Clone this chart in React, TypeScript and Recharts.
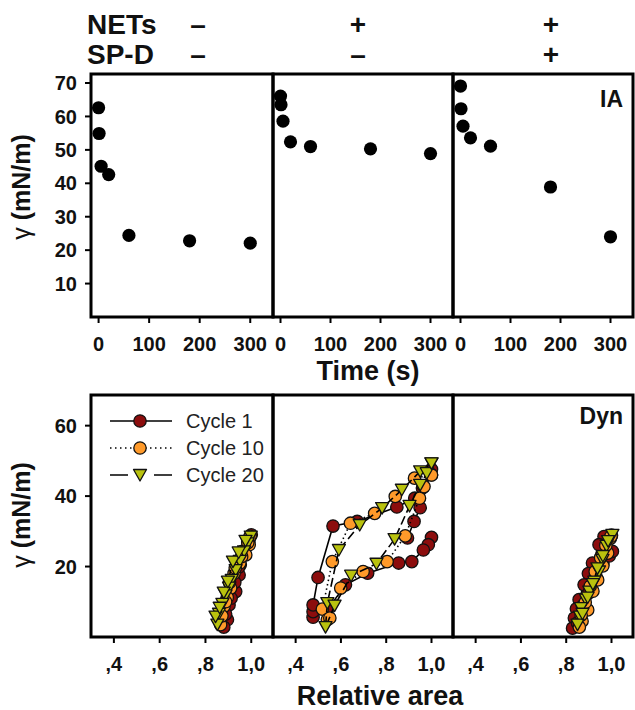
import React from 'react';
import { ScatterChart, Scatter, XAxis, YAxis, ReferenceArea, Legend } from 'recharts';

const FONT = '"Liberation Sans", Arial, Helvetica, sans-serif';

// ---------------- header ----------------
const conditionNames = ['NETs', 'SP-D'];
const netsSigns = ['–', '+', '+'];
const spdSigns = ['–', '–', '+'];
const panelTags = ['IA', 'Dyn'];

// ---------------- IA (adsorption) ----------------
const iaTimes = [0, 1, 5, 20, 60, 180, 300];
const iaGammaCtrl = [62.6, 54.9, 45.1, 42.6, 24.4, 22.8, 22.1];
const iaGammaNets = [66.1, 63.5, 58.6, 52.4, 51.0, 50.3, 48.9];
const iaGammaNetsSpd = [69.1, 62.3, 57.1, 53.6, 51.1, 38.9, 24.0];
const timeTicks = [0, 100, 200, 300];
const iaGammaTicks = [10, 20, 30, 40, 50, 60, 70];

// ---------------- Dyn (cycling) ----------------
const cycleNames = ['Cycle 1', 'Cycle 10', 'Cycle 20'];
const areaTicks = [0.4, 0.6, 0.8, 1.0];
const areaTickLabels = [',4', ',6', ',8', '1,0'];
const dynGammaTicks = [20, 40, 60];

// NETs -, SP-D -
const ctrlC1Area = [1.0, 0.985, 0.962, 0.952, 0.947, 0.932, 0.903, 0.896, 0.88, 0.888, 0.912, 0.928, 0.945, 0.968, 0.99];
const ctrlC1Gamma = [29.0, 26.9, 24.3, 20.5, 17.6, 12.9, 9.1, 4.9, 2.8, 6.5, 11.0, 15.5, 19.8, 23.6, 27.4];
const ctrlC10Area = [0.995, 0.991, 0.976, 0.95, 0.925, 0.91, 0.895, 0.881, 0.866, 0.872, 0.888, 0.905, 0.93, 0.958, 0.985];
const ctrlC10Gamma = [28.6, 26.2, 23.3, 21.0, 18.1, 13.9, 11.2, 8.7, 3.5, 6.0, 10.0, 15.5, 19.6, 22.8, 26.8];
const ctrlC20Area = [0.998, 0.985, 0.969, 0.95, 0.932, 0.915, 0.903, 0.888, 0.874, 0.859, 0.852, 0.844, 0.862, 0.88, 0.898, 0.92, 0.945, 0.975];
const ctrlC20Gamma = [28.5, 26.6, 24.3, 21.6, 19.0, 16.2, 14.0, 11.8, 9.4, 6.6, 3.5, 5.8, 8.3, 12.6, 15.7, 21.4, 24.0, 27.3];

// NETs +, SP-D -
const netsC1Area = [1.0, 0.986, 0.964, 0.913, 0.855, 0.718, 0.62, 0.54, 0.477, 0.477, 0.477, 0.499, 0.565, 0.672, 0.847, 0.926, 0.96, 1.0, 0.95, 0.923, 0.894];
const netsC1Gamma = [28.3, 26.2, 24.7, 21.4, 21.0, 18.1, 14.8, 7.7, 5.6, 7.2, 9.1, 16.9, 31.5, 32.8, 36.9, 39.4, 42.3, 47.6, 36.7, 32.8, 28.1];
const netsC10Area = [1.0, 0.925, 0.84, 0.749, 0.642, 0.562, 0.518, 0.54, 0.551, 0.599, 0.698, 0.804, 0.884, 0.947, 0.967, 1.0];
const netsC10Gamma = [46.0, 45.1, 39.9, 35.1, 32.3, 21.4, 7.9, 4.9, 5.4, 13.9, 18.6, 21.4, 28.7, 39.4, 42.7, 46.0];
const netsC20Area = [1.0, 0.95, 0.869, 0.782, 0.683, 0.591, 0.54, 0.532, 0.572, 0.645, 0.757, 0.837, 0.903, 0.95, 0.979, 1.0];
const netsC20Gamma = [49.3, 47.0, 41.8, 36.6, 31.8, 24.7, 9.6, 2.8, 8.9, 17.4, 20.8, 27.8, 37.2, 43.2, 46.5, 49.3];

// NETs +, SP-D +
const spdC1Area = [1.0, 0.967, 0.945, 0.916, 0.898, 0.879, 0.857, 0.845, 0.836, 0.828, 0.85, 0.872, 0.9, 0.93, 0.962, 0.99, 1.004];
const spdC1Gamma = [28.9, 28.5, 26.2, 21.0, 18.0, 14.8, 10.6, 8.0, 5.4, 2.5, 4.0, 8.8, 12.5, 17.5, 20.8, 23.0, 24.3];
const spdC10Area = [0.995, 0.983, 0.962, 0.939, 0.918, 0.895, 0.87, 0.858, 0.866, 0.884, 0.906, 0.928, 0.952, 0.975, 0.998];
const spdC10Gamma = [28.0, 23.8, 20.2, 16.2, 13.0, 7.7, 4.5, 2.8, 6.2, 9.8, 14.4, 18.6, 22.5, 26.0, 28.6];
const spdC20Area = [1.004, 0.978, 0.96, 0.945, 0.924, 0.902, 0.887, 0.865, 0.861, 0.85, 0.872, 0.895, 0.918, 0.938, 0.962, 0.985];
const spdC20Gamma = [29.0, 25.9, 21.9, 18.6, 15.7, 12.9, 10.6, 8.2, 5.8, 3.5, 6.6, 11.2, 15.0, 19.5, 23.0, 27.2];

// ---------------- layout / styles ----------------
const COLS = [
  { left: 91, width: 182 },
  { left: 273, width: 180 },
  { left: 453, width: 180 },
];
const TOP_ROW = { top: 74, height: 243 };
const BOT_ROW = { top: 395, height: 242 };
const PAD = 4;
const TOP_PAD = 10;
const AXIS_H = 40;
const TIME_DOMAIN: [number, number] = [-15, 345];
const IA_DOMAIN: [number, number] = [0, 72.7];
const AREA_DOMAIN: [number, number] = [0.3, 1.095];
const DYN_DOMAIN: [number, number] = [0, 68.7];

const cycleColors = ['#8C0D0D', '#FF9A2A', '#B9C20E'];
const cycleShapes = ['circle', 'circle', 'triangle'];
const cycleLines = [
  { stroke: '#000', strokeWidth: 1.6 },
  { stroke: '#000', strokeWidth: 1.6, strokeDasharray: '1.5 3' },
  { stroke: '#000', strokeWidth: 1.6, strokeDasharray: '9 4' },
];
const legendDash = ['none', '1.5 3.5', '18 26 18'];

const tickText = { fontSize: 20, fontWeight: 700, fill: '#111', fontFamily: FONT };
const tickLine = { stroke: '#000', strokeWidth: 2 };

const zip = (xs: number[], ys: number[]) => xs.map((x, i) => ({ x, y: ys[i] }));

function Marker({ cx, cy, kind, color }: { cx: number; cy: number; kind: string; color: string }) {
  if (kind === 'triangle') {
    return (
      <polygon
        points={`${cx - 6.5},${cy - 5.5} ${cx + 6.5},${cy - 5.5} ${cx},${cy + 6}`}
        fill={color}
        stroke="#111"
        strokeWidth={1.3}
        strokeLinejoin="round"
      />
    );
  }
  return <circle cx={cx} cy={cy} r={6.2} fill={color} stroke="#111" strokeWidth={1.3} />;
}

function Panel({
  col,
  row,
  xDomain,
  yDomain,
  xTicks,
  yTicks,
  xFmt,
  children,
}: {
  col: number;
  row: { top: number; height: number };
  xDomain: [number, number];
  yDomain: [number, number];
  xTicks: number[];
  yTicks: number[];
  xFmt?: (v: number) => string;
  children?: React.ReactNode;
}) {
  const c = COLS[col];
  const first = col === 0;
  const padL = first ? c.left : PAD;
  const w = padL + c.width + PAD;
  const h = TOP_PAD + row.height + AXIS_H;
  return (
    <div style={{ position: 'absolute', left: c.left - padL, top: row.top - TOP_PAD }}>
      <ScatterChart width={w} height={h} margin={{ top: TOP_PAD, right: PAD, bottom: 0, left: first ? 0 : PAD }}>
        <XAxis
          type="number"
          dataKey="x"
          domain={xDomain}
          ticks={xTicks}
          interval={0}
          allowDataOverflow
          axisLine={false}
          tickLine={tickLine}
          tickSize={6}
          tickMargin={14}
          height={AXIS_H}
          tick={tickText}
          tickFormatter={xFmt}
        />
        <YAxis
          type="number"
          dataKey="y"
          domain={yDomain}
          ticks={yTicks}
          interval={0}
          allowDataOverflow
          axisLine={false}
          tickLine={tickLine}
          tickSize={6}
          tickMargin={8}
          width={first ? c.left : 0}
          mirror={!first}
          tick={tickText}
          tickFormatter={first ? undefined : () => ''}
        />
        <ReferenceArea
          x1={xDomain[0]}
          x2={xDomain[1]}
          y1={yDomain[0]}
          y2={yDomain[1]}
          fill="none"
          stroke="#000"
          strokeWidth={3}
          ifOverflow="visible"
        />
        {children}
      </ScatterChart>
    </div>
  );
}

function iaSeries(gammas: number[]) {
  return (
    <Scatter
      data={zip(iaTimes, gammas)}
      isAnimationActive={false}
      shape={(p: any) => <circle cx={p.cx} cy={p.cy} r={6.6} fill="#000" />}
    />
  );
}

function dynSeries(sets: [number[], number[]][]) {
  return sets.map(([a, g], i) => (
    <Scatter
      key={i}
      data={zip(a, g)}
      isAnimationActive={false}
      line={cycleLines[i]}
      lineType="joint"
      shape={(p: any) => <Marker cx={p.cx} cy={p.cy} kind={cycleShapes[i]} color={cycleColors[i]} />}
    />
  ));
}

const areaFmt = (v: number) => areaTickLabels[areaTicks.indexOf(v)] ?? '';

function LegendBox() {
  return (
    <svg width={180} height={85} style={{ overflow: 'visible' }}>
      {cycleNames.map((n, i) => {
        const cy = 16 + i * 27;
        return (
          <g key={n}>
            <line
              x1={10}
              x2={72}
              y1={cy}
              y2={cy}
              stroke="#000"
              strokeWidth={1.6}
              strokeDasharray={legendDash[i] === 'none' ? undefined : legendDash[i]}
            />
            <Marker cx={40} cy={cy} kind={cycleShapes[i]} color={cycleColors[i]} />
            <text x={86} y={cy + 7} fontSize={20} fontFamily={FONT} fill="#222">
              {n}
            </text>
          </g>
        );
      })}
    </svg>
  );
}

export default function App() {
  const signX = [198, 358, 551];
  const txt = { fontFamily: FONT, fontWeight: 700, fill: '#111' } as const;
  return (
    <div style={{ position: 'absolute', left: 0, top: 0, width: 635, height: 710, overflow: 'hidden', background: '#fff' }}>
      {/* IA row */}
      <Panel col={0} row={TOP_ROW} xDomain={TIME_DOMAIN} yDomain={IA_DOMAIN} xTicks={timeTicks} yTicks={iaGammaTicks}>
        {iaSeries(iaGammaCtrl)}
      </Panel>
      <Panel col={1} row={TOP_ROW} xDomain={TIME_DOMAIN} yDomain={IA_DOMAIN} xTicks={timeTicks} yTicks={iaGammaTicks}>
        {iaSeries(iaGammaNets)}
      </Panel>
      <Panel col={2} row={TOP_ROW} xDomain={TIME_DOMAIN} yDomain={IA_DOMAIN} xTicks={timeTicks} yTicks={iaGammaTicks}>
        {iaSeries(iaGammaNetsSpd)}
      </Panel>

      {/* Dyn row */}
      <Panel col={0} row={BOT_ROW} xDomain={AREA_DOMAIN} yDomain={DYN_DOMAIN} xTicks={areaTicks} yTicks={dynGammaTicks} xFmt={areaFmt}>
        {dynSeries([
          [ctrlC1Area, ctrlC1Gamma],
          [ctrlC10Area, ctrlC10Gamma],
          [ctrlC20Area, ctrlC20Gamma],
        ])}
        <Legend
          layout="vertical"
          align="center"
          verticalAlign="middle"
          content={() => <LegendBox />}
          wrapperStyle={{ left: 100, top: 20, width: 180, height: 85 }}
        />
      </Panel>
      <Panel col={1} row={BOT_ROW} xDomain={AREA_DOMAIN} yDomain={DYN_DOMAIN} xTicks={areaTicks} yTicks={dynGammaTicks} xFmt={areaFmt}>
        {dynSeries([
          [netsC1Area, netsC1Gamma],
          [netsC10Area, netsC10Gamma],
          [netsC20Area, netsC20Gamma],
        ])}
      </Panel>
      <Panel col={2} row={BOT_ROW} xDomain={AREA_DOMAIN} yDomain={DYN_DOMAIN} xTicks={areaTicks} yTicks={dynGammaTicks} xFmt={areaFmt}>
        {dynSeries([
          [spdC1Area, spdC1Gamma],
          [spdC10Area, spdC10Gamma],
          [spdC20Area, spdC20Gamma],
        ])}
      </Panel>

      {/* text overlay */}
      <svg width={635} height={710} style={{ position: 'absolute', left: 0, top: 0, pointerEvents: 'none' }}>
        <text x={87} y={33.5} fontSize={28} {...txt}>{conditionNames[0]}</text>
        <text x={87} y={63.5} fontSize={28} {...txt}>{conditionNames[1]}</text>
        {netsSigns.map((s, i) => (
          <text key={'n' + i} x={signX[i]} y={33.5} fontSize={28} textAnchor="middle" {...txt}>{s}</text>
        ))}
        {spdSigns.map((s, i) => (
          <text key={'s' + i} x={signX[i]} y={63.5} fontSize={28} textAnchor="middle" {...txt}>{s}</text>
        ))}
        <text x={623} y={107} fontSize={23} textAnchor="end" {...txt}>{panelTags[0]}</text>
        <text x={623} y={424} fontSize={23} textAnchor="end" {...txt}>{panelTags[1]}</text>
        <text x={368} y={380} fontSize={27} textAnchor="middle" {...txt}>Time (s)</text>
        <text x={380} y={705} fontSize={27} textAnchor="middle" {...txt}>Relative area</text>
        <text transform="translate(30,187) rotate(-90)" fontSize={25} textAnchor="middle" {...txt}>
          <tspan fontWeight={400}>γ</tspan> (mN/m)
        </text>
        <text transform="translate(30,515) rotate(-90)" fontSize={25} textAnchor="middle" {...txt}>
          <tspan fontWeight={400}>γ</tspan> (mN/m)
        </text>
      </svg>
    </div>
  );
}
